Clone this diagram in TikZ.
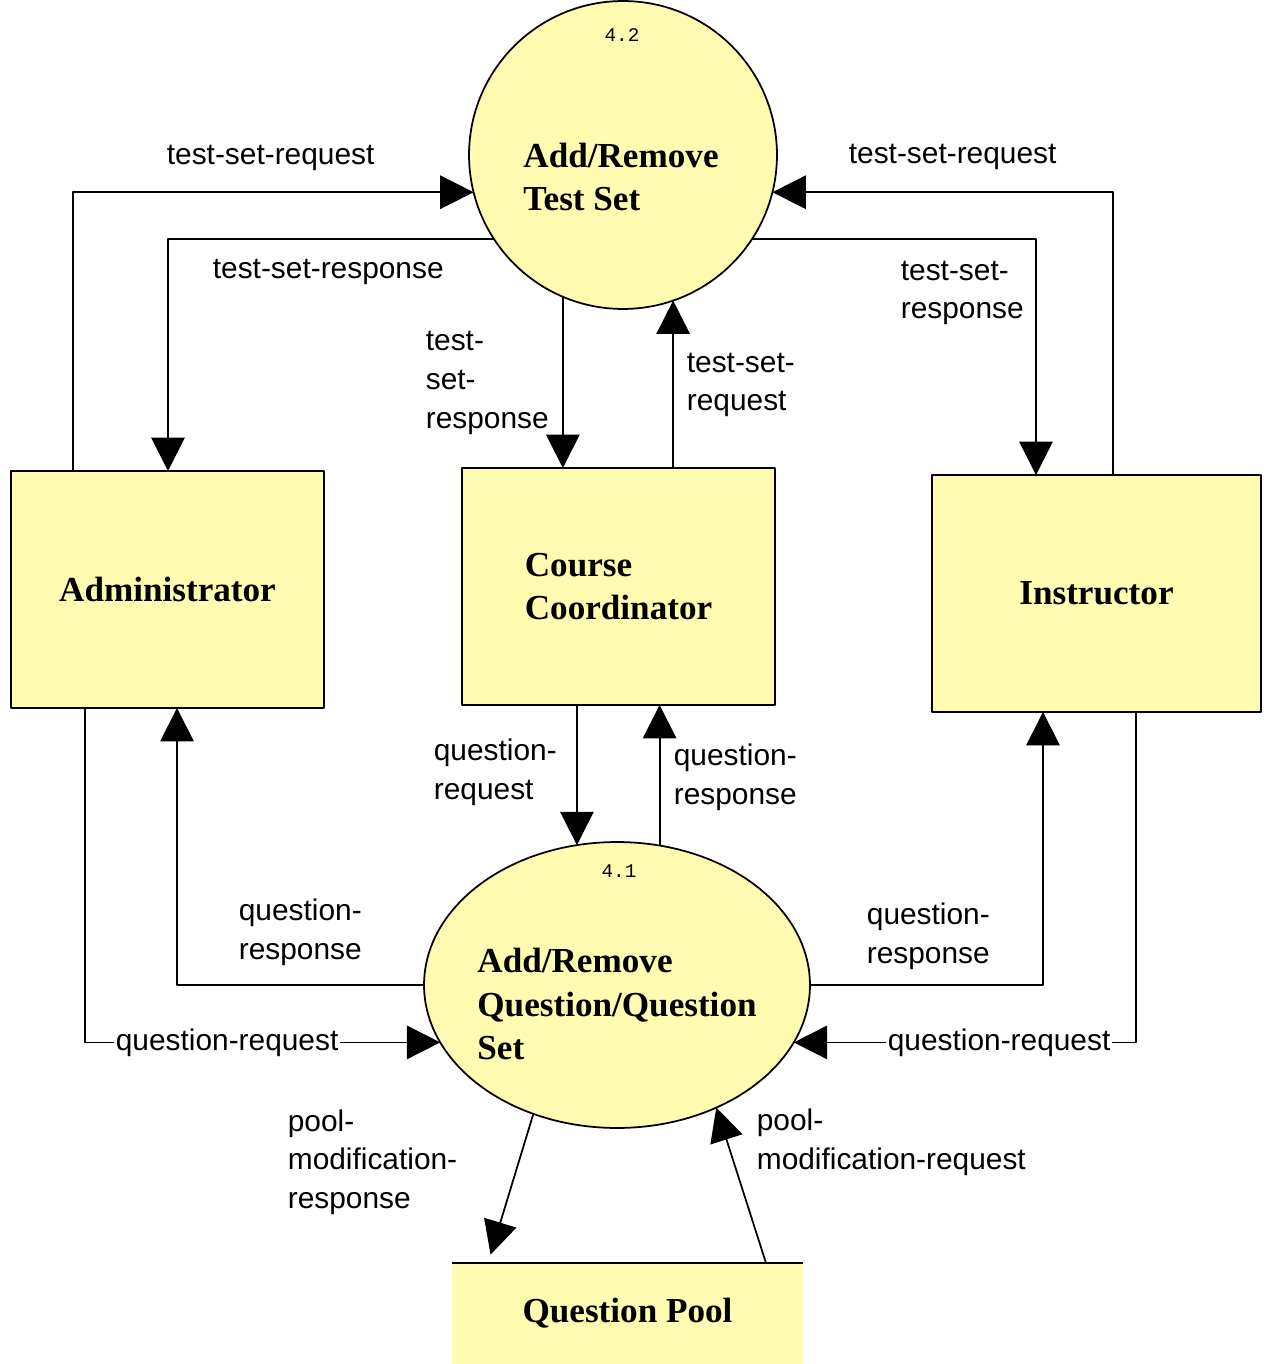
\documentclass[tikz,border=0pt]{standalone}
\usepackage{fontspec}
\setmainfont{Liberation Serif}
\setsansfont{Liberation Sans}
\setmonofont{Liberation Mono}
\usetikzlibrary{arrows.meta,shapes.geometric}
\definecolor{pale}{RGB}{255,251,176}
\tikzset{
  entity/.style={draw, fill=pale, minimum width=#1, minimum height=4.74cm, inner sep=0pt, outer sep=0pt, font=\bfseries\fontsize{20}{25}\selectfont, align=left},
  proc/.style={draw, fill=pale, inner sep=0pt, outer sep=0pt},
  title/.style={font=\bfseries\fontsize{20}{25}\selectfont, align=left, inner sep=0pt},
  num/.style={font=\ttfamily\fontsize{11}{13}\selectfont, inner sep=0pt},
  lbl/.style={font=\sffamily\fontsize{17}{22}\selectfont, align=left, inner sep=0pt, anchor=west},
  flow/.style={-{Triangle[length=19pt,width=19pt]}}
}
\begin{document}
\begin{tikzpicture}[x=0.02cm, y=-0.02cm, line width=1pt, line join=round]
\useasboundingbox (0,0) rectangle (1267,1364);
% processes
\node[proc, circle, minimum size=6.16cm] (ts) at (623,155) {};
\node[proc, ellipse, minimum width=7.72cm, minimum height=5.72cm] (qs) at (617,985) {};
\node[num] (n42) at (622,35) {4.2};
\node[num] (n41) at (619,871) {4.1};
\node[title] (tst) at (621,177) {Add/Remove\\Test Set};
\node[title] (qst) at (617,1004) {Add/Remove\\Question/Question\\Set};
% entities
\node[entity=6.26cm] (adm) at (167.5,589.5) {Administrator};
\node[entity=6.26cm] (cc) at (618.5,586.5) {Course\\Coordinator};
\node[entity=6.58cm] (inst) at (1096.5,593.5) {Instructor};
\node[fill=pale, minimum width=7.02cm, minimum height=2.02cm, inner sep=0pt, outer sep=0pt, font=\bfseries\fontsize{20}{25}\selectfont] (qp) at (627.5,1313.5) {Question Pool};
\draw (qp.north west) -- (qp.north east);
% test set flows
\draw[flow] (adm.north -| 73,0) |- (ts.194);
\draw[flow] (ts.213.5) -| (adm.north -| 168,0);
\draw[flow] (inst.north -| 1113,0) |- (ts.-14);
\draw[flow] (ts.-33) -| (inst.north -| 1036,0);
\draw[flow] (ts.-113.3) -- (ts.-113.3 |- cc.north);
\draw[flow] (cc.north -| ts.-71) -- (ts.-71);
% question flows
\draw[flow] (cc.south -| qs.106.7) -- (qs.106.7);
\draw[flow] (qs.73.3) -- (qs.73.3 |- cc.south);
\draw[flow] (qs.west) -| (adm.south -| 177,0);
\draw[flow] (qs.east) -| (inst.south -| 1043,0);
\draw[flow] (adm.south -| 85,0) |- (qs.198.2) node[lbl, anchor=center, fill=white, inner sep=1pt, pos=0.7] {question-request};
\draw[flow] (inst.south -| 1136,0) |- (qs.-18.2) node[lbl, anchor=center, fill=white, inner sep=1pt, pos=0.7] {question-request};
% pool flows
\draw[flow, shorten >=5pt] (qs.237.6) -- (qp.north -| 488,0);
\draw[flow] (qp.north -| 766,0) -- (qs.-51.2);
% labels
\foreach \p/\t in {{166,158}/{test-set-request}, {212,272}/{test-set-response}, {848,157}/{test-set-request},
  {425,383}/{test-\\set-\\response}, {686,385}/{test-set-\\request}, {900,293}/{test-set-\\response},
  {433,772}/{question-\\request}, {673,777}/{question-\\response}, {238,932}/{question-\\response},
  {866,936}/{question-\\response}, {287,1162}/{pool-\\modification-\\response}, {756,1142}/{pool-\\modification-request}}
  \node[lbl] at (\p) {\t};
\end{tikzpicture}
\end{document}
